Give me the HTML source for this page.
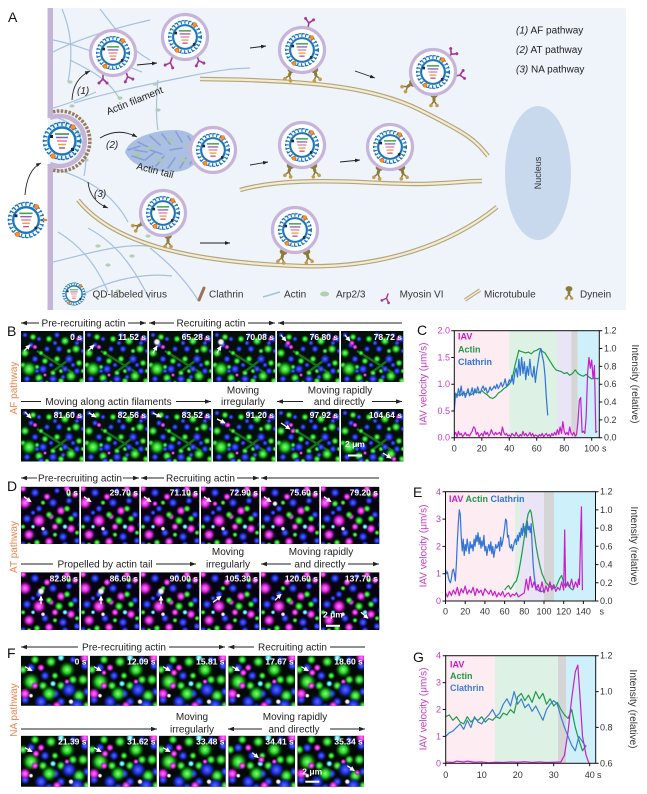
<!DOCTYPE html>
<html><head><meta charset="utf-8">
<style>
html,body{margin:0;padding:0;background:#fff}
svg{display:block}
text{font-family:"Liberation Sans",Arial,sans-serif}
.g{fill:url(#gG)}.b{fill:url(#gB)}.m{fill:url(#gM)}.c{fill:url(#gC)}.w{fill:url(#gW)}
.tl{font-size:8.5px;font-weight:bold;fill:#fff}
.hd{font-size:10px;fill:#222}
.tk{font-size:9px;fill:#333}
.tm{font-size:9px;fill:#c838c8}
.lg{font-size:10px;fill:#333}
</style></head><body>
<svg width="647" height="794" viewBox="0 0 647 794" xmlns="http://www.w3.org/2000/svg">
<defs>
<radialGradient id="gG"><stop offset="0" stop-color="#8dff78"/><stop offset=".45" stop-color="#22cf24"/><stop offset="1" stop-color="#0b6d12" stop-opacity="0"/></radialGradient>
<radialGradient id="gB"><stop offset="0" stop-color="#5a6bff"/><stop offset=".5" stop-color="#1f2fe0"/><stop offset="1" stop-color="#101890" stop-opacity="0"/></radialGradient>
<radialGradient id="gM"><stop offset="0" stop-color="#ff86ff"/><stop offset=".5" stop-color="#e020e0"/><stop offset="1" stop-color="#801080" stop-opacity="0"/></radialGradient>
<radialGradient id="gC"><stop offset="0" stop-color="#e8ffff"/><stop offset=".5" stop-color="#40e0f0"/><stop offset="1" stop-color="#108090" stop-opacity="0"/></radialGradient>
<radialGradient id="gW"><stop offset="0" stop-color="#fff"/><stop offset=".5" stop-color="#e8e8e8"/><stop offset="1" stop-color="#888" stop-opacity="0"/></radialGradient>
<marker id="ar" viewBox="0 0 8 6" refX="8" refY="3" markerWidth="6" markerHeight="4.5" markerUnits="userSpaceOnUse" orient="auto-start-reverse"><path d="M0,0L8,3L0,6z" fill="#222"/></marker>
<marker id="ka" viewBox="0 0 8 6" refX="8" refY="3" markerWidth="5" markerHeight="3.8" markerUnits="userSpaceOnUse" orient="auto"><path d="M0,0L8,3L0,6z" fill="#222"/></marker>
<marker id="wa" viewBox="0 0 8 8" refX="7" refY="4" markerWidth="5" markerHeight="5" markerUnits="userSpaceOnUse" orient="auto"><path d="M0,0L8,4L0,8z" fill="#fff"/></marker>

<g id="vc">
<circle r="17" fill="none" stroke="#1c76bc" stroke-width="4" stroke-dasharray="1.4 3"/>
<circle r="18.6" fill="none" stroke="#1c76bc" stroke-width="1.4" stroke-dasharray="2.6 1.8"/>
<circle r="13.5" fill="#fff" stroke="#1c76bc" stroke-width="2.4"/>
<path d="M-7,-7h14" stroke="#3aa54a" stroke-width="1.7"/>
<path d="M-6,-3.5h12" stroke="#9a5ab4" stroke-width="1.5"/>
<path d="M-5,0h10" stroke="#e07ab0" stroke-width="1.5"/>
<path d="M-4,3.5h8" stroke="#f0a030" stroke-width="1.5"/>
<path d="M-3,7h6" stroke="#c05090" stroke-width="1.5"/>
<rect x="9" y="7" width="3" height="3" fill="#1a2a40"/>
<rect x="-12" y="-6" width="3" height="3" fill="#1a2a40"/>
<circle cx="11" cy="-14" r="2.3" fill="#f7941d" stroke="#e05a1a" stroke-width=".6"/>
<circle cx="-9" cy="15" r="2.3" fill="#f7941d" stroke="#e05a1a" stroke-width=".6"/>
</g>
<g id="ve"><circle r="22.5" fill="#fff" stroke="#c6b4da" stroke-width="3.2"/><use href="#vc" transform="scale(.88)"/></g>
<g id="my" stroke="#a3399a" stroke-width="1.6" fill="none" stroke-linecap="round"><path d="M0,0V-5M0,-5L-4,-9M0,-5L4,-9"/><circle cx="-4" cy="-9" r="1.5" fill="#a3399a" stroke="none"/><circle cx="4" cy="-9" r="1.5" fill="#a3399a" stroke="none"/></g>
<g id="dy"><path d="M0,0L0,8" stroke="#8a7b38" stroke-width="3"/><ellipse cx="0" cy="2" rx="3.8" ry="3" fill="#8a7b38"/><path d="M0,8L-3,12M0,8L3,12" stroke="#8a7b38" stroke-width="1.5"/><circle cx="-3" cy="12.5" r="1.8" fill="#c79a4c"/><circle cx="3" cy="12.5" r="1.8" fill="#c79a4c"/></g>

<g id="tB">
<rect width="70" height="60" fill="#03100a"/>
<path d="M16,20 L52,42 M30,42 L46,30" stroke="#1fae2c" stroke-width="2.4" opacity=".6"/>
<circle class="b" cx="4" cy="4" r="3"/><circle class="b" cx="16" cy="40" r="3"/><circle class="b" cx="30" cy="34" r="3"/><circle class="b" cx="42" cy="46" r="3"/><circle class="b" cx="52" cy="34" r="3"/><circle class="b" cx="62" cy="20" r="3"/><circle class="b" cx="8" cy="56" r="3"/><circle class="b" cx="28" cy="56" r="3"/><circle class="b" cx="46" cy="56" r="3"/><circle class="b" cx="34" cy="12" r="3"/><circle class="b" cx="18" cy="8" r="3"/><circle class="b" cx="56" cy="12" r="3"/>
<circle class="g" cx="20" cy="22" r="3"/><circle class="g" cx="40" cy="40" r="3"/><circle class="g" cx="48" cy="20" r="3"/><circle class="g" cx="2" cy="34" r="3.5"/><circle class="g" cx="26" cy="52" r="3"/><circle class="g" cx="62" cy="40" r="3"/><circle class="g" cx="16" cy="36" r="3"/>
<circle class="g" cx="8" cy="38" r="8"/><circle class="g" cx="4" cy="22" r="5"/><circle class="g" cx="18" cy="47" r="5"/><circle class="g" cx="28" cy="8" r="4"/><circle class="g" cx="44" cy="10" r="5"/><circle class="g" cx="55" cy="18" r="5"/><circle class="g" cx="36" cy="28" r="4"/><circle class="g" cx="50" cy="45" r="6"/><circle class="g" cx="58" cy="32" r="4"/><circle class="g" cx="24" cy="30" r="4"/><circle class="g" cx="12" cy="6" r="4"/><circle class="g" cx="40" cy="50" r="4"/><circle class="g" cx="61" cy="50" r="4"/><circle class="g" cx="32" cy="42" r="3.5"/>
<circle class="b" cx="22" cy="38" r="5"/><circle class="b" cx="32" cy="48" r="5"/><circle class="b" cx="14" cy="28" r="4"/><circle class="b" cx="6" cy="48" r="4"/><circle class="b" cx="38" cy="18" r="4"/><circle class="b" cx="48" cy="28" r="5"/><circle class="b" cx="56" cy="40" r="4"/><circle class="b" cx="26" cy="18" r="3.5"/><circle class="b" cx="10" cy="14" r="3.5"/><circle class="b" cx="44" cy="38" r="4"/><circle class="b" cx="60" cy="8" r="4"/><circle class="b" cx="20" cy="52" r="4"/><circle class="b" cx="36" cy="4" r="3.5"/><circle class="b" cx="52" cy="4" r="3"/>
<circle class="m" cx="14" cy="16" r="2.8"/><circle class="m" cx="57" cy="8" r="2.5"/><circle class="m" cx="24" cy="44" r="2.2"/>
</g>
<g id="tD">
<rect width="70" height="70" fill="#080310"/>
<circle class="m" cx="46" cy="2" r="4"/><circle class="m" cx="62" cy="20" r="4"/><circle class="m" cx="2" cy="2" r="4"/><circle class="m" cx="30" cy="30" r="3.5"/>
<circle class="b" cx="2" cy="58" r="4"/><circle class="b" cx="60" cy="38" r="4"/><circle class="b" cx="44" cy="58" r="4"/><circle class="b" cx="12" cy="26" r="3"/><circle class="b" cx="30" cy="62" r="3"/>
<circle class="g" cx="22" cy="16" r="3"/><circle class="g" cx="60" cy="14" r="3"/><circle class="g" cx="2" cy="40" r="3"/><circle class="g" cx="34" cy="48" r="3"/><circle class="g" cx="48" cy="8" r="3"/>
<circle class="m" cx="4" cy="16" r="7"/><circle class="m" cx="18" cy="34" r="7"/><circle class="m" cx="8" cy="48" r="6"/><circle class="m" cx="28" cy="55" r="5"/><circle class="m" cx="50" cy="42" r="5"/><circle class="m" cx="40" cy="24" r="5"/><circle class="m" cx="26" cy="10" r="4"/><circle class="m" cx="54" cy="8" r="4"/><circle class="m" cx="34" cy="40" r="4"/>
<circle class="b" cx="14" cy="6" r="5"/><circle class="b" cx="32" cy="16" r="5"/><circle class="b" cx="48" cy="14" r="4"/><circle class="b" cx="6" cy="32" r="5"/><circle class="b" cx="42" cy="50" r="5"/><circle class="b" cx="24" cy="46" r="4.5"/><circle class="b" cx="54" cy="28" r="4"/><circle class="b" cx="18" cy="22" r="4"/><circle class="b" cx="56" cy="54" r="4"/><circle class="b" cx="36" cy="4" r="3.5"/>
<circle class="g" cx="38" cy="34" r="5"/><circle class="g" cx="50" cy="32" r="4"/><circle class="g" cx="16" cy="56" r="4"/><circle class="g" cx="46" cy="22" r="4"/><circle class="g" cx="28" cy="28" r="4"/><circle class="g" cx="8" cy="58" r="3"/><circle class="g" cx="56" cy="46" r="3"/>
<circle class="c" cx="44" cy="40" r="3"/><circle class="c" cx="12" cy="40" r="2.5"/><circle class="w" cx="22" cy="42" r="2.5"/>
</g>
<g id="tF">
<rect width="70" height="60" fill="#020a05"/>
<circle class="g" cx="2" cy="14" r="5"/><circle class="g" cx="52" cy="24" r="5"/><circle class="g" cx="22" cy="30" r="5"/><circle class="g" cx="66" cy="50" r="5"/><circle class="g" cx="34" cy="20" r="4"/>
<circle class="b" cx="10" cy="12" r="5"/><circle class="b" cx="34" cy="38" r="5"/><circle class="b" cx="52" cy="4" r="4"/><circle class="b" cx="66" cy="36" r="5"/><circle class="b" cx="28" cy="52" r="5"/>
<circle class="m" cx="46" cy="26" r="3"/>
<circle class="g" cx="10" cy="26" r="9"/><circle class="g" cx="28" cy="38" r="8"/><circle class="g" cx="46" cy="14" r="8"/><circle class="g" cx="58" cy="40" r="7"/><circle class="g" cx="30" cy="6" r="6"/><circle class="g" cx="62" cy="24" r="6"/><circle class="g" cx="14" cy="4" r="5"/><circle class="g" cx="40" cy="30" r="5"/>
<circle class="b" cx="48" cy="34" r="8"/><circle class="b" cx="56" cy="50" r="8"/><circle class="b" cx="20" cy="46" r="7"/><circle class="b" cx="40" cy="46" r="5"/><circle class="b" cx="64" cy="10" r="5"/><circle class="b" cx="4" cy="44" r="5"/><circle class="b" cx="24" cy="20" r="5"/>
<circle class="m" cx="4" cy="38" r="6"/><circle class="m" cx="64" cy="2" r="6"/><circle class="m" cx="36" cy="50" r="5"/><circle class="m" cx="20" cy="12" r="4"/><circle class="m" cx="14" cy="30" r="4"/>
<circle class="c" cx="40" cy="2" r="4"/><circle class="c" cx="32" cy="28" r="3.5"/><circle class="w" cx="50" cy="46" r="3"/><circle class="w" cx="10" cy="40" r="2.5"/>
</g>
</defs>

<rect width="647" height="794" fill="#fff"/>

<!-- ================= PANEL A ================= -->
<rect x="48" y="8" width="578" height="302" fill="#eef4fa"/>
<text x="8" y="22" font-size="14" fill="#111">A</text>

<g fill="none" stroke="#a6c0dd" stroke-width="1.2">
<path d="M53,52 C80,38 115,28 150,20"/>
<path d="M62,9 C70,28 74,50 68,82"/>
<path d="M53,40 C85,46 115,62 142,72"/>
<path d="M74,103 C110,92 150,84 190,76 S235,69 250,68"/>
<path d="M100,9 C115,28 128,48 150,60"/>
<path d="M53,108 C68,104 82,98 96,92"/>
<path d="M58,118 C78,124 90,148 84,176"/>
<path d="M53,168 C85,178 112,192 128,222"/>
<path d="M58,232 C78,244 95,262 108,292"/>
<path d="M53,262 C88,254 128,240 160,248"/>
<path d="M70,302 C100,282 140,272 172,276"/>
<path d="M88,228 C110,240 128,256 150,300"/>
<path d="M150,248 C168,262 184,278 198,300"/>
<path d="M158,80 C156,100 156,120 158,130"/>
<path d="M70,60 C90,70 110,80 120,100"/>
</g>
<g fill="#b4ceb2">
<ellipse cx="72" cy="106" rx="2.6" ry="1.6"/><ellipse cx="80" cy="134" rx="2.6" ry="1.6"/><ellipse cx="86" cy="160" rx="2.6" ry="1.6"/><ellipse cx="155" cy="84" rx="2.6" ry="1.6"/><ellipse cx="108" cy="265" rx="2.6" ry="1.6"/><ellipse cx="132" cy="256" rx="2.6" ry="1.6"/><ellipse cx="98" cy="246" rx="2.6" ry="1.6"/><ellipse cx="148" cy="236" rx="2.6" ry="1.6"/><ellipse cx="70" cy="82" rx="2.6" ry="1.6"/><ellipse cx="120" cy="98" rx="2.6" ry="1.6"/><ellipse cx="158" cy="110" rx="2.6" ry="1.6"/><ellipse cx="76" cy="290" rx="2.6" ry="1.6"/><ellipse cx="118" cy="291" rx="2.6" ry="1.6"/>
</g>

<!-- microtubules -->
<g fill="none">
<path d="M200,79 C300,80 370,85 420,110 S475,140 488,156" stroke="#b3a57a" stroke-width="4.5"/>
<path d="M200,79 C300,80 370,85 420,110 S475,140 488,156" stroke="#f2ecd4" stroke-width="2.2"/>
<path d="M240,190 C275,180 320,180 380,183 S455,181 482,181" stroke="#b3a57a" stroke-width="4.5"/>
<path d="M240,190 C275,180 320,180 380,183 S455,181 482,181" stroke="#f2ecd4" stroke-width="2.2"/>
<path d="M78,200 C110,240 180,262 300,266 C380,269 450,245 497,207" stroke="#b3a57a" stroke-width="4.5"/>
<path d="M78,200 C110,240 180,262 300,266 C380,269 450,245 497,207" stroke="#f2ecd4" stroke-width="2.2"/>
</g>

<!-- actin tail -->
<path d="M125,152 C128,140 150,130 175,130 C192,130 200,140 200,150 C200,162 190,172 172,172 C150,172 130,165 125,152z" fill="#aabfe2"/>
<g stroke="#86a0d2" stroke-width="1.6" fill="none" stroke-linecap="round">
<path d="M128,150 L140,146 M132,156 L144,160 M138,142 L150,148 M145,160 L155,152 M150,136 L160,145 M156,166 L164,156 M162,134 L170,144 M168,168 L175,158 M176,132 L182,142 M180,168 L186,158 M188,136 L194,146 M190,164 L196,154 M150,150 L162,154 M170,150 L182,148 M135,150 L147,152"/>
</g>
<g fill="#a9c9a6"><ellipse cx="150" cy="148" rx="3" ry="1.8"/><ellipse cx="170" cy="140" rx="3" ry="1.8"/><ellipse cx="183" cy="160" rx="3" ry="1.8"/><ellipse cx="160" cy="160" rx="3" ry="1.8"/><ellipse cx="190" cy="145" rx="3" ry="1.8"/><ellipse cx="138" cy="155" rx="3" ry="1.8"/></g>

<!-- membrane -->
<rect x="47.5" y="8" width="5.5" height="110" fill="#c4b4d6"/>
<rect x="47.5" y="164" width="5.5" height="146" fill="#c4b4d6"/>
<path d="M50,118 A25,25 0 1 1 50,164" fill="none" stroke="#c4b4d6" stroke-width="4.5"/>
<path d="M53,111.8 A30,30 0 1 1 53,170.2" fill="none" stroke="#9b7a60" stroke-width="3.5" stroke-dasharray="2.5 1.4"/>
<use href="#vc" transform="translate(62,141)"/>
<use href="#vc" transform="translate(26,220) scale(.95)"/>
<rect x="43" y="219" width="4" height="2" fill="#e08a2a"/>

<!-- pathway 1 -->
<use href="#my" transform="translate(103,74) rotate(180)"/>
<use href="#my" transform="translate(126,72) rotate(160)"/>
<use href="#ve" transform="translate(113,53)"/>
<use href="#my" transform="translate(172,58) rotate(200)"/>
<use href="#my" transform="translate(197,56) rotate(160)"/>
<use href="#ve" transform="translate(185,37)"/>
<use href="#my" transform="translate(308,28) rotate(10)"/>
<use href="#dy" transform="translate(292,68) rotate(20)"/>
<use href="#dy" transform="translate(314,68) rotate(-15)"/>
<use href="#ve" transform="translate(302,50)"/>
<use href="#my" transform="translate(448,58) rotate(40)"/>
<use href="#my" transform="translate(455,76) rotate(80)"/>
<use href="#dy" transform="translate(414,82) rotate(55)"/>
<use href="#dy" transform="translate(434,93)"/>
<use href="#ve" transform="translate(433,72)"/>

<!-- pathway 2 -->
<use href="#ve" transform="translate(213,150)"/>
<use href="#dy" transform="translate(291,164) rotate(15)"/>
<use href="#dy" transform="translate(313,164) rotate(-15)"/>
<use href="#ve" transform="translate(302,145)"/>
<use href="#dy" transform="translate(380,166) rotate(15)"/>
<use href="#dy" transform="translate(401,166) rotate(-15)"/>
<use href="#ve" transform="translate(390,147)"/>

<!-- pathway 3 -->
<use href="#dy" transform="translate(145,222) rotate(60)"/>
<use href="#dy" transform="translate(168,234)"/>
<use href="#ve" transform="translate(163,213)"/>
<use href="#dy" transform="translate(284,250) rotate(15)"/>
<use href="#dy" transform="translate(306,250) rotate(-15)"/>
<use href="#ve" transform="translate(295,230)"/>

<!-- black arrows -->
<g fill="none" stroke="#222" stroke-width=".9" marker-end="url(#ka)">
<path d="M25,195 Q27,170 41,163"/>
<path d="M72,100 Q73,79 90,71"/>
<path d="M137,65 L157,63"/>
<path d="M250,48 L266,46"/>
<path d="M355,71 L375,78"/>
<path d="M100,138 Q118,127 137,137"/>
<path d="M250,165 L268,162"/>
<path d="M340,162 L360,160"/>
<path d="M88,182 Q90,201 108,208"/>
<path d="M200,243 L230,243"/>
</g>

<ellipse cx="538" cy="173" rx="33" ry="67" fill="#c9d9ed"/>
<text transform="translate(541,173) rotate(-90)" text-anchor="middle" font-size="9" fill="#333">Nucleus</text>

<text x="77" y="94" font-size="10" font-style="italic" fill="#222">(1)</text>
<text x="106" y="148" font-size="10" font-style="italic" fill="#222">(2)</text>
<text x="94" y="197" font-size="10" font-style="italic" fill="#222">(3)</text>
<text transform="translate(108,115) rotate(-22)" font-size="10" fill="#222">Actin filament</text>
<text transform="translate(136,169) rotate(14)" font-size="10" fill="#222">Actin tail</text>
<text x="516" y="33.5" font-size="10" fill="#222"><tspan font-style="italic">(1)</tspan> AF pathway</text>
<text x="516" y="53" font-size="10" fill="#222"><tspan font-style="italic">(2)</tspan> AT pathway</text>
<text x="516" y="72.5" font-size="10" fill="#222"><tspan font-style="italic">(3)</tspan> NA pathway</text>

<!-- legend -->
<use href="#vc" transform="translate(74,294) scale(.6)"/>
<text x="92.5" y="297.5" class="lg">QD-labeled virus</text>
<path d="M199,300 L204,288" stroke="#9a7358" stroke-width="3" stroke-linecap="round"/>
<text x="209" y="297.5" class="lg">Clathrin</text>
<path d="M263,297 L280,292" stroke="#a6c0dd" stroke-width="1.5"/>
<text x="284" y="297.5" class="lg">Actin</text>
<ellipse cx="324.6" cy="294" rx="4.5" ry="2.5" fill="#b4ceb2"/>
<text x="336" y="297.5" class="lg">Arp2/3</text>
<use href="#my" transform="translate(388,294) rotate(200) scale(.9)"/>
<text x="399.6" y="297.5" class="lg">Myosin VI</text>
<path d="M465,300 L480,290" stroke="#b3a57a" stroke-width="3.5"/><path d="M465,300 L480,290" stroke="#f2ecd4" stroke-width="1.5"/>
<text x="484" y="297.5" class="lg">Microtubule</text>
<use href="#dy" transform="translate(569,287) scale(.9)"/>
<text x="580" y="297.5" class="lg">Dynein</text>

<!-- ================= PANEL B ================= -->
<text x="7" y="336" font-size="14" fill="#111">B</text>
<text transform="translate(17,388) rotate(-90)" text-anchor="middle" fill="#f0834a" font-size="10">AF pathway</text>
<g stroke="#222" stroke-width=".9">
<line x1="21" y1="323" x2="39" y2="323" marker-start="url(#ar)"/><line x1="128" y1="323" x2="146" y2="323" marker-end="url(#ar)"/>
<line x1="149" y1="323" x2="174" y2="323" marker-start="url(#ar)"/><line x1="248" y1="323" x2="275" y2="323" marker-end="url(#ar)"/>
<line x1="278" y1="323" x2="402" y2="323" marker-start="url(#ar)"/>
<line x1="21" y1="401.5" x2="41" y2="401.5"/><line x1="176" y1="401.5" x2="211" y2="401.5" marker-end="url(#ar)"/>
<line x1="277" y1="401.5" x2="303" y2="401.5" marker-start="url(#ar)"/><line x1="372" y1="401.5" x2="402" y2="401.5" marker-end="url(#ar)"/>
</g>
<text x="83.5" y="326.5" text-anchor="middle" class="hd">Pre-recruiting actin</text>
<text x="211" y="326.5" text-anchor="middle" class="hd">Recruiting actin</text>
<text x="108.5" y="405" text-anchor="middle" class="hd">Moving along actin filaments</text>
<text x="243" y="393.5" text-anchor="middle" class="hd">Moving</text>
<text x="243" y="405" text-anchor="middle" class="hd">irregularly</text>
<text x="340" y="393.5" text-anchor="middle" class="hd">Moving rapidly</text>
<text x="339.5" y="405" text-anchor="middle" class="hd">and directly</text>

<svg x="21" y="331" width="62.3" height="51"><use href="#tB"/><line x1="3" y1="20" x2="9" y2="14" stroke="#fff" stroke-width="1.3" marker-end="url(#wa)"/><text x="61" y="9" text-anchor="end" class="tl">0 s</text></svg>
<svg x="85" y="331" width="62.3" height="51"><use href="#tB"/><line x1="3" y1="20" x2="9" y2="14" stroke="#fff" stroke-width="1.3" marker-end="url(#wa)"/><text x="61" y="9" text-anchor="end" class="tl">11.52 s</text></svg>
<svg x="149" y="331" width="62.3" height="51"><use href="#tB"/><circle class="w" cx="8" cy="11" r="4"/><line x1="4" y1="22" x2="8" y2="15" stroke="#fff" stroke-width="1.3" marker-end="url(#wa)"/><text x="61" y="9" text-anchor="end" class="tl">65.28 s</text></svg>
<svg x="213" y="331" width="62.3" height="51"><use href="#tB"/><circle class="w" cx="8" cy="11" r="4"/><line x1="4" y1="22" x2="8" y2="15" stroke="#fff" stroke-width="1.3" marker-end="url(#wa)"/><text x="61" y="9" text-anchor="end" class="tl">70.08 s</text></svg>
<svg x="277" y="331" width="62.3" height="51"><use href="#tB"/><circle class="m" cx="11" cy="12" r="3"/><line x1="4" y1="4" x2="9" y2="10" stroke="#fff" stroke-width="1.3" marker-end="url(#wa)"/><text x="61" y="9" text-anchor="end" class="tl">76.80 s</text></svg>
<svg x="341" y="331" width="62.3" height="51"><use href="#tB"/><circle class="m" cx="11" cy="12" r="3"/><line x1="4" y1="4" x2="9" y2="10" stroke="#fff" stroke-width="1.3" marker-end="url(#wa)"/><text x="61" y="9" text-anchor="end" class="tl">78.72 s</text></svg>

<svg x="21" y="409" width="62.3" height="52.5"><use href="#tB"/><line x1="4" y1="3" x2="10" y2="9" stroke="#fff" stroke-width="1.3" marker-end="url(#wa)"/><text x="61" y="9" text-anchor="end" class="tl">81.60 s</text></svg>
<svg x="85" y="409" width="62.3" height="52.5"><use href="#tB"/><line x1="4" y1="4" x2="11" y2="8" stroke="#fff" stroke-width="1.3" marker-end="url(#wa)"/><text x="61" y="9" text-anchor="end" class="tl">82.56 s</text></svg>
<svg x="149" y="409" width="62.3" height="52.5"><use href="#tB"/><line x1="4" y1="4" x2="12" y2="8" stroke="#fff" stroke-width="1.3" marker-end="url(#wa)"/><text x="61" y="9" text-anchor="end" class="tl">83.52 s</text></svg>
<svg x="213" y="409" width="62.3" height="52.5"><use href="#tB"/><circle class="m" cx="15" cy="16" r="3"/><line x1="4" y1="10" x2="12" y2="14" stroke="#fff" stroke-width="1.3" marker-end="url(#wa)"/><text x="61" y="9" text-anchor="end" class="tl">91.20 s</text></svg>
<svg x="277" y="409" width="62.3" height="52.5"><use href="#tB"/><circle class="m" cx="16" cy="22" r="3"/><line x1="4" y1="14" x2="13" y2="20" stroke="#fff" stroke-width="1.3" marker-end="url(#wa)"/><text x="61" y="9" text-anchor="end" class="tl">97.92 s</text></svg>
<svg x="341" y="409" width="62.3" height="52.5"><use href="#tB"/><circle class="m" cx="53" cy="50" r="3"/><line x1="42" y1="44" x2="50" y2="49" stroke="#fff" stroke-width="1.3" marker-end="url(#wa)"/><text x="61" y="9" text-anchor="end" class="tl">104.64 s</text><text x="4" y="38" class="tl" font-size="8">2 μm</text><rect x="7" y="45.5" width="14" height="2" fill="#fff"/></svg>

<!-- ================= PANEL C ================= -->
<text x="417" y="335" font-size="14" fill="#111">C</text>
<rect x="454.3" y="330.7" width="55" height="107" fill="#fdedf3"/>
<rect x="509.3" y="330.7" width="47.7" height="107" fill="#ddf1e4"/>
<rect x="557" y="330.7" width="14.3" height="107" fill="#e9e5f7"/>
<rect x="571.3" y="330.7" width="6.4" height="107" fill="#d5d5d5"/>
<rect x="577.7" y="330.7" width="21.6" height="107" fill="#cef0fb"/>
<g fill="none" stroke-width="1.2" stroke-linejoin="round">
<polyline transform="matrix(1.374,0,0,-89.17,454.3,437.7)" vector-effect="non-scaling-stroke" stroke="#1e9b48" points="0,.48 2,.49 4,.47 6,.5 8,.49 10,.51 12,.48 14,.5 16,.52 18,.5 20,.53 22,.5 24,.48 26,.45 28,.44 30,.46 32,.5 34,.52 36,.55 38,.57 40,.6 42,.65 44,.8 46,.92 47,.98 48,.97 50,.96 52,.95 54,.96 56,.94 58,.97 60,.98 62,1 63,.99 64,.97 66,.95 68,.9 70,.85 72,.8 74,.76 76,.75 78,.74 80,.72 82,.73 84,.7 86,.72 88,.76 90,.72 92,.7 94,.69 96,.71 98,.68 100,.66 102,.67 104,.66 105,.67"/>
<polyline transform="matrix(1.374,0,0,-89.17,454.3,437.7)" vector-effect="non-scaling-stroke" stroke="#2f74d8" points="0,.3 1,.5 2,.45 3,.55 4,.48 5,.58 6,.47 7,.52 8,.45 9,.5 10,.55 11,.47 12,.5 13,.56 14,.48 15,.55 16,.5 17,.57 18,.52 19,.5 20,.55 21,.58 22,.53 23,.56 24,.5 25,.52 26,.57 27,.53 28,.55 29,.58 30,.55 31,.6 32,.55 33,.58 34,.62 35,.57 36,.6 37,.66 38,.58 39,.6 40,.65 41,.62 42,.7 43,.6 44,.72 45,.78 46,.68 47,.88 48,.7 49,.9 50,.72 51,.85 52,.65 53,.8 54,.7 55,.88 56,.72 57,.68 58,.8 59,.62 60,.75 61,.85 62,.95 63,1 64,.92 65,.85 66,.7 67,.45 68,.25"/>
<polyline transform="matrix(1.374,0,0,-53.5,454.3,437.7)" vector-effect="non-scaling-stroke" stroke="#c81ec8" points="0,.05 1,.1 2,.02 3,.12 4,.05 5,.08 6,.02 7,.05 8,.1 9,.04 10,.06 11,.03 12,.08 13,.12 14,.2 15,.18 16,.06 17,.1 18,.02 19,.05 20,.08 21,.03 22,.12 23,.06 24,.1 25,.03 26,.07 27,.15 28,.08 29,.05 30,.1 31,.06 32,.08 33,.1 34,.04 35,.2 36,.1 37,.05 38,.08 39,.03 40,.05 41,.02 42,.08 43,.05 44,.03 45,.1 46,.04 47,.02 48,.06 49,.03 50,.12 51,.04 52,.08 53,.03 54,.05 55,.1 56,.03 57,.08 58,.02 59,.05 60,.04 61,.02 62,.06 63,.03 64,.08 65,.02 66,.05 67,.08 68,.03 69,.06 70,.02 71,.08 72,.04 73,.1 74,.05 75,.15 76,.06 77,.2 78,.08 79,.3 80,.12 81,.06 82,.1 83,.05 84,.2 85,.08 86,.05 87,.1 88,.03 89,.06 90,.3 91,.7 92,.75 93,.1 94,.12 95,.08 96,.4 97,1.2 98,1.5 99,1.3 100,1.45 101,1.1 102,1.35 103,.1 104,.12"/>
</g>
<rect x="454.3" y="330.7" width="145" height="107" fill="none" stroke="#111" stroke-width="1"/>
<path d="M451.3,437.7h3M451.3,411h3M451.3,384.2h3M451.3,357.5h3M451.3,330.7h3M599.3,437.7h3M599.3,419.9h3M599.3,402h3M599.3,384.2h3M599.3,366.4h3M599.3,348.5h3M599.3,330.7h3M454.3,437.7v3M481.8,437.7v3M509.3,437.7v3M536.7,437.7v3M564.2,437.7v3M591.7,437.7v3" stroke="#111" stroke-width="1"/>
<g text-anchor="end" class="tm"><text x="450" y="440.7" class="tm">0.0</text><text x="450" y="414" class="tm">0.5</text><text x="450" y="387.2" class="tm">1.0</text><text x="450" y="360.5" class="tm">1.5</text><text x="450" y="333.7" class="tm">2.0</text></g>
<g class="tk"><text x="604" y="440.7" class="tk">0.0</text><text x="604" y="422.9" class="tk">0.2</text><text x="604" y="405" class="tk">0.4</text><text x="604" y="387.2" class="tk">0.6</text><text x="604" y="369.4" class="tk">0.8</text><text x="604" y="351.5" class="tk">1.0</text><text x="604" y="333.7" class="tk">1.2</text></g>
<g text-anchor="middle"><text x="454.3" y="451.5" class="tk">0</text><text x="481.8" y="451.5" class="tk">20</text><text x="509.3" y="451.5" class="tk">40</text><text x="536.7" y="451.5" class="tk">60</text><text x="564.2" y="451.5" class="tk">80</text><text x="591.7" y="451.5" class="tk">100</text></g>
<text x="602" y="451.5" class="tk">s</text>
<text transform="translate(426.5,384) rotate(-90)" text-anchor="middle" font-size="10" fill="#c838c8">IAV velocity (μm/s)</text>
<text transform="translate(632,384) rotate(90)" text-anchor="middle" font-size="10" fill="#333">Intensity (relative)</text>
<text x="458" y="339.5" font-size="9" font-weight="bold" fill="#c81ec8">IAV</text>
<text x="458" y="352.7" font-size="9" font-weight="bold" fill="#1e9b48">Actin</text>
<text x="458" y="365" font-size="9" font-weight="bold" fill="#2f74d8">Clathrin</text>

<!-- ================= PANEL D ================= -->
<text x="7" y="491" font-size="14" fill="#111">D</text>
<text transform="translate(17,547) rotate(-90)" text-anchor="middle" fill="#f0834a" font-size="10">AT pathway</text>
<g stroke="#222" stroke-width=".9">
<line x1="21" y1="478" x2="37" y2="478" marker-start="url(#ar)"/><line x1="123" y1="478" x2="139" y2="478" marker-end="url(#ar)"/>
<line x1="141" y1="478" x2="164" y2="478" marker-start="url(#ar)"/><line x1="237" y1="478" x2="259" y2="478" marker-end="url(#ar)"/>
<line x1="261" y1="478" x2="379" y2="478" marker-start="url(#ar)"/>
<line x1="21" y1="564" x2="53" y2="564"/><line x1="156" y1="564" x2="196" y2="564" marker-end="url(#ar)"/>
<line x1="261" y1="564" x2="291" y2="564" marker-start="url(#ar)"/><line x1="348" y1="564" x2="379" y2="564" marker-end="url(#ar)"/>
</g>
<text x="80" y="481.5" text-anchor="middle" class="hd">Pre-recruiting actin</text>
<text x="200.5" y="481.5" text-anchor="middle" class="hd">Recruiting actin</text>
<text x="105" y="567.5" text-anchor="middle" class="hd">Propelled by actin tail</text>
<text x="228" y="555" text-anchor="middle" class="hd">Moving</text>
<text x="228" y="567.5" text-anchor="middle" class="hd">irregularly</text>
<text x="321" y="555" text-anchor="middle" class="hd">Moving rapidly</text>
<text x="320" y="567.5" text-anchor="middle" class="hd">and directly</text>

<svg x="21" y="486.7" width="58.3" height="57.3"><use href="#tD"/><line x1="3" y1="10" x2="10" y2="15" stroke="#fff" stroke-width="1.3" marker-end="url(#wa)"/><text x="57" y="9" text-anchor="end" class="tl">0 s</text></svg>
<svg x="81" y="486.7" width="58.3" height="57.3"><use href="#tD"/><line x1="3" y1="10" x2="10" y2="15" stroke="#fff" stroke-width="1.3" marker-end="url(#wa)"/><text x="57" y="9" text-anchor="end" class="tl">29.70 s</text></svg>
<svg x="141" y="486.7" width="58.3" height="57.3"><use href="#tD"/><circle class="m" cx="14" cy="17" r="3"/><line x1="3" y1="10" x2="10" y2="15" stroke="#fff" stroke-width="1.3" marker-end="url(#wa)"/><text x="57" y="9" text-anchor="end" class="tl">71.10 s</text></svg>
<svg x="201" y="486.7" width="58.3" height="57.3"><use href="#tD"/><circle class="m" cx="14" cy="17" r="3"/><line x1="3" y1="10" x2="10" y2="15" stroke="#fff" stroke-width="1.3" marker-end="url(#wa)"/><text x="57" y="9" text-anchor="end" class="tl">72.90 s</text></svg>
<svg x="261" y="486.7" width="58.3" height="57.3"><use href="#tD"/><circle class="w" cx="14" cy="17" r="3"/><line x1="3" y1="10" x2="10" y2="15" stroke="#fff" stroke-width="1.3" marker-end="url(#wa)"/><text x="57" y="9" text-anchor="end" class="tl">75.60 s</text></svg>
<svg x="321" y="486.7" width="58.3" height="57.3"><use href="#tD"/><circle class="g" cx="14" cy="17" r="4"/><line x1="3" y1="10" x2="10" y2="15" stroke="#fff" stroke-width="1.3" marker-end="url(#wa)"/><text x="57" y="9" text-anchor="end" class="tl">79.20 s</text></svg>

<svg x="21" y="572.3" width="58.3" height="57.7"><use href="#tD"/><circle class="w" cx="20" cy="19" r="4"/><line x1="20" y1="32" x2="20" y2="24" stroke="#fff" stroke-width="1.3" marker-end="url(#wa)"/><text x="57" y="9" text-anchor="end" class="tl">82.80 s</text></svg>
<svg x="81" y="572.3" width="58.3" height="57.7"><use href="#tD"/><circle class="w" cx="20" cy="19" r="4"/><line x1="20" y1="32" x2="20" y2="24" stroke="#fff" stroke-width="1.3" marker-end="url(#wa)"/><text x="57" y="9" text-anchor="end" class="tl">86.60 s</text></svg>
<svg x="141" y="572.3" width="58.3" height="57.7"><use href="#tD"/><circle class="w" cx="20" cy="19" r="4"/><line x1="20" y1="32" x2="20" y2="24" stroke="#fff" stroke-width="1.3" marker-end="url(#wa)"/><text x="57" y="9" text-anchor="end" class="tl">90.00 s</text></svg>
<svg x="201" y="572.3" width="58.3" height="57.7"><use href="#tD"/><line x1="12" y1="30" x2="20" y2="24" stroke="#fff" stroke-width="1.3" marker-end="url(#wa)"/><text x="57" y="9" text-anchor="end" class="tl">105.30 s</text></svg>
<svg x="261" y="572.3" width="58.3" height="57.7"><use href="#tD"/><line x1="14" y1="28" x2="20" y2="22" stroke="#fff" stroke-width="1.3" marker-end="url(#wa)"/><text x="57" y="9" text-anchor="end" class="tl">120.60 s</text></svg>
<svg x="321" y="572.3" width="58.3" height="57.7"><use href="#tD"/><line x1="40" y1="40" x2="47" y2="46" stroke="#fff" stroke-width="1.3" marker-end="url(#wa)"/><text x="57" y="9" text-anchor="end" class="tl">137.70 s</text><text x="2" y="45" class="tl" font-size="8">2 μm</text><rect x="5" y="52.5" width="14" height="2" fill="#fff"/></svg>

<!-- ================= PANEL E ================= -->
<text x="413" y="497" font-size="14" fill="#111">E</text>
<rect x="445.5" y="491.7" width="69.5" height="109.3" fill="#fdedf3"/>
<rect x="515" y="491.7" width="5" height="109.3" fill="#ddf1e4"/>
<rect x="520" y="491.7" width="24" height="109.3" fill="#e9e5f7"/>
<rect x="544" y="491.7" width="10" height="109.3" fill="#d5d5d5"/>
<rect x="554" y="491.7" width="41.5" height="109.3" fill="#cef0fb"/>
<g fill="none" stroke-width="1.2" stroke-linejoin="round">
<polyline transform="matrix(.985,0,0,-91.1,445.5,601)" vector-effect="non-scaling-stroke" stroke="#2f74d8" points="0,.35 1,.3 2,.32 3,.25 4,.22 5,.2 6,.25 7,.33 8,.35 9,.3 10,.22 11,.4 12,.65 13,.85 14,1 15,.95 16,.7 17,.55 18,.68 19,.5 20,.62 21,.55 22,.68 23,.6 24,.52 25,.65 26,.58 27,.62 28,.55 29,.68 30,.6 31,.72 32,.65 33,.75 34,.62 35,.7 36,.58 37,.66 38,.6 39,.72 40,.55 41,.6 42,.5 43,.58 44,.62 45,.55 46,.65 47,.52 48,.6 49,.48 50,.55 51,.62 52,.58 53,.6 54,.65 55,.55 56,.7 57,.6 58,.65 59,.72 60,.8 61,.9 62,.88 63,.7 64,.72 65,.6 66,.58 67,.62 68,.55 69,.6 70,.65 71,.68 72,.62 73,.72 74,.66 75,.75 76,.7 77,.8 78,.72 79,.85 80,.75 81,.82 82,.7 83,.88 84,.78 85,.82 86,.75 87,.85 88,.6 89,.4 90,.28 91,.2 92,.15 93,.13 94,.12 95,.11 96,.12 97,.1 98,.11 100,.1"/>
<polyline transform="matrix(.985,0,0,-91.1,445.5,601)" vector-effect="non-scaling-stroke" stroke="#1e9b48" points="60,.12 62,.15 64,.17 66,.13 68,.16 70,.2 72,.22 74,.3 76,.42 78,.55 80,.7 82,.85 84,.96 86,1 87,.97 88,.9 90,.75 92,.6 94,.48 96,.38 98,.3 100,.25 102,.2 104,.18 106,.15 108,.17 110,.14 112,.15 114,.2 116,.25 118,.28 120,.2 122,.16 124,.18 126,.15 128,.13 130,.12"/>
<polyline transform="matrix(.985,0,0,-27.3,445.5,601)" vector-effect="non-scaling-stroke" stroke="#c81ec8" points="0,.3 2,.15 4,.35 6,.2 8,.4 10,.25 12,.5 14,.2 16,.45 18,.3 20,.55 22,.25 24,.4 26,.3 28,.5 30,.2 32,.45 34,.3 36,.4 38,.2 40,.45 42,.35 44,.25 46,.4 48,.2 50,.35 52,.15 54,.3 56,.2 58,.35 60,.15 62,.25 64,.3 66,.15 68,.25 70,.2 72,.3 74,.15 76,.2 78,.25 80,.3 82,.8 84,.4 86,.9 88,.5 90,.7 92,.4 94,.6 96,.35 98,.7 100,.3 102,.55 104,.35 106,.7 108,.4 110,.6 112,.35 114,.5 116,.4 118,.7 120,.4 121,2.6 122,.5 124,.7 126,.5 128,.8 130,.45 132,.7 134,.5 135,.8 136,.6 137,2.2 138,3.45 139,.4"/>
</g>
<rect x="445.5" y="491.7" width="150" height="109.3" fill="none" stroke="#111" stroke-width="1"/>
<path d="M442.5,601h3M442.5,573.7h3M442.5,546.4h3M442.5,519.1h3M442.5,491.8h3M595.5,601h3M595.5,582.8h3M595.5,564.6h3M595.5,546.3h3M595.5,528.1h3M595.5,509.9h3M595.5,491.7h3M445.5,601v3M465.2,601v3M484.9,601v3M504.6,601v3M524.3,601v3M544,601v3M563.7,601v3M583.4,601v3" stroke="#111" stroke-width="1"/>
<g text-anchor="end"><text x="441" y="604" class="tm">0</text><text x="441" y="576.7" class="tm">1</text><text x="441" y="549.4" class="tm">2</text><text x="441" y="522.1" class="tm">3</text><text x="441" y="494.8" class="tm">4</text></g>
<g><text x="600" y="604" class="tk">0.0</text><text x="600" y="585.8" class="tk">0.2</text><text x="600" y="567.6" class="tk">0.4</text><text x="600" y="549.3" class="tk">0.6</text><text x="600" y="531.1" class="tk">0.8</text><text x="600" y="512.9" class="tk">1.0</text><text x="600" y="494.7" class="tk">1.2</text></g>
<g text-anchor="middle"><text x="445.5" y="614.5" class="tk">0</text><text x="465.2" y="614.5" class="tk">20</text><text x="484.9" y="614.5" class="tk">40</text><text x="504.6" y="614.5" class="tk">60</text><text x="524.3" y="614.5" class="tk">80</text><text x="544" y="614.5" class="tk">100</text><text x="563.7" y="614.5" class="tk">120</text><text x="583.4" y="614.5" class="tk">140</text></g>
<text x="599.5" y="614.5" class="tk">s</text>
<text transform="translate(426.5,546) rotate(-90)" text-anchor="middle" font-size="10" fill="#c838c8">IAV velocity (μm/s)</text>
<text transform="translate(631,546) rotate(90)" text-anchor="middle" font-size="10" fill="#333">Intensity (relative)</text>
<text x="449" y="502" font-size="9" font-weight="bold"><tspan fill="#c81ec8">IAV</tspan> <tspan fill="#1e9b48">Actin</tspan> <tspan fill="#2f74d8">Clathrin</tspan></text>

<!-- ================= PANEL F ================= -->
<text x="7" y="658" font-size="14" fill="#111">F</text>
<text transform="translate(17,710) rotate(-90)" text-anchor="middle" fill="#f0834a" font-size="10">NA pathway</text>
<g stroke="#222" stroke-width=".9">
<line x1="21" y1="647" x2="78" y2="647" marker-start="url(#ar)"/><line x1="169" y1="647" x2="225" y2="647" marker-end="url(#ar)"/>
<line x1="228.3" y1="647" x2="254" y2="647" marker-start="url(#ar)"/><line x1="330" y1="647" x2="365" y2="647"/>
<line x1="21" y1="729" x2="157" y2="729" marker-end="url(#ar)"/>
<line x1="228" y1="729" x2="262" y2="729" marker-start="url(#ar)"/><line x1="330" y1="729" x2="365" y2="729" marker-end="url(#ar)"/>
</g>
<text x="124" y="650.5" text-anchor="middle" class="hd">Pre-recruiting actin</text>
<text x="292.5" y="650.5" text-anchor="middle" class="hd">Recruiting actin</text>
<text x="192" y="720" text-anchor="middle" class="hd">Moving</text>
<text x="192" y="732.5" text-anchor="middle" class="hd">irregularly</text>
<text x="295" y="720" text-anchor="middle" class="hd">Moving rapidly</text>
<text x="294" y="732.5" text-anchor="middle" class="hd">and directly</text>

<svg x="21" y="655.7" width="66.7" height="50"><use href="#tF"/><line x1="4" y1="11" x2="11" y2="15" stroke="#fff" stroke-width="1.3" marker-end="url(#wa)"/><text x="65.5" y="9" text-anchor="end" class="tl">0 s</text></svg>
<svg x="90" y="655.7" width="66.7" height="50"><use href="#tF"/><circle class="m" cx="14" cy="17" r="3"/><line x1="4" y1="11" x2="11" y2="15" stroke="#fff" stroke-width="1.3" marker-end="url(#wa)"/><text x="65.5" y="9" text-anchor="end" class="tl">12.09 s</text></svg>
<svg x="159" y="655.7" width="66.7" height="50"><use href="#tF"/><circle class="m" cx="15" cy="17" r="4"/><line x1="4" y1="11" x2="11" y2="15" stroke="#fff" stroke-width="1.3" marker-end="url(#wa)"/><text x="65.5" y="9" text-anchor="end" class="tl">15.81 s</text></svg>
<svg x="228.3" y="655.7" width="66.7" height="50"><use href="#tF"/><circle class="m" cx="15" cy="17" r="4"/><line x1="4" y1="11" x2="11" y2="15" stroke="#fff" stroke-width="1.3" marker-end="url(#wa)"/><text x="65.5" y="9" text-anchor="end" class="tl">17.67 s</text></svg>
<svg x="297.3" y="655.7" width="66.7" height="50"><use href="#tF"/><circle class="m" cx="15" cy="17" r="4"/><line x1="4" y1="11" x2="11" y2="15" stroke="#fff" stroke-width="1.3" marker-end="url(#wa)"/><text x="65.5" y="9" text-anchor="end" class="tl">18.60 s</text></svg>

<svg x="21" y="735.7" width="66.7" height="51"><use href="#tF"/><circle class="m" cx="15" cy="18" r="4"/><line x1="4" y1="12" x2="11" y2="16" stroke="#fff" stroke-width="1.3" marker-end="url(#wa)"/><text x="65.5" y="9" text-anchor="end" class="tl">21.39 s</text></svg>
<svg x="90" y="735.7" width="66.7" height="51"><use href="#tF"/><circle class="m" cx="15" cy="18" r="4"/><line x1="4" y1="12" x2="11" y2="16" stroke="#fff" stroke-width="1.3" marker-end="url(#wa)"/><text x="65.5" y="9" text-anchor="end" class="tl">31.62 s</text></svg>
<svg x="159" y="735.7" width="66.7" height="51"><use href="#tF"/><circle class="m" cx="15" cy="18" r="4"/><line x1="4" y1="12" x2="11" y2="16" stroke="#fff" stroke-width="1.3" marker-end="url(#wa)"/><text x="65.5" y="9" text-anchor="end" class="tl">33.48 s</text></svg>
<svg x="228.3" y="735.7" width="66.7" height="51"><use href="#tF"/><circle class="m" cx="33" cy="24" r="4"/><line x1="24" y1="17" x2="30" y2="22" stroke="#fff" stroke-width="1.3" marker-end="url(#wa)"/><text x="65.5" y="9" text-anchor="end" class="tl">34.41 s</text></svg>
<svg x="297.3" y="735.7" width="66.7" height="51"><use href="#tF"/><circle class="m" cx="60" cy="37" r="3"/><line x1="50" y1="30" x2="57" y2="35" stroke="#fff" stroke-width="1.3" marker-end="url(#wa)"/><text x="65.5" y="9" text-anchor="end" class="tl">35.34 s</text><text x="5" y="39" class="tl" font-size="8">2 μm</text><rect x="8" y="45" width="14" height="2" fill="#fff"/></svg>

<!-- ================= PANEL G ================= -->
<text x="413" y="662" font-size="14" fill="#111">G</text>
<rect x="445.7" y="655.7" width="49.3" height="107.6" fill="#fdedf3"/>
<rect x="495" y="655.7" width="63" height="107.6" fill="#ddf1e4"/>
<rect x="558" y="655.7" width="8" height="107.6" fill="#d5d5d5"/>
<rect x="566" y="655.7" width="29.7" height="107.6" fill="#cef0fb"/>
<g fill="none" stroke-width="1.2" stroke-linejoin="round">
<polyline transform="matrix(3.6,0,0,-179.3,445.7,870.9)" vector-effect="non-scaling-stroke" stroke="#1e9b48" points="0,.86 1,.87 2,.84 3,.86 4,.83 5,.82 6,.86 7,.83 8,.85 9,.84 10,.86 11,.83 12,.85 13,.84 14,.86 15,.85 16,.88 17,.87 18,.9 19,.88 20,.97 21,.99 22,.95 23,.98 24,.94 25,1 26,.96 27,.99 28,.93 29,.96 30,.92 31,.94 32,.9 33,.87 34,.85 35,.9 36,.8 37,.73 38,.67 39,.7"/>
<polyline transform="matrix(3.6,0,0,-179.3,445.7,870.9)" vector-effect="non-scaling-stroke" stroke="#3b7fd4" points="0,.75 1,.77 2,.78 3,.8 4,.82 5,.79 6,.84 7,.8 8,.86 9,.83 10,.82 11,.85 12,.87 13,.9 14,.86 15,.88 16,.93 17,.96 18,.92 19,1 20,.93 21,.96 22,.91 23,.93 24,.89 25,.92 26,.88 27,.84 28,.9 29,.93 30,.95 31,.93 32,.86 33,.8 34,.75 35,.7 36,.67 37,.75 38,.72 39,.69"/>
<polyline transform="matrix(3.6,0,0,-26.9,445.7,763.3)" vector-effect="non-scaling-stroke" stroke="#c81ec8" points="0,.05 2,.03 3,.08 5,.05 6,.08 8,.04 10,.05 12,.02 14,.04 16,.03 18,.05 20,.04 22,.06 24,.03 26,.05 28,.03 30,.04 32,.05 33,.3 34,1.2 35,2.4 36,3.4 36.7,3.65 37.3,2.5 38,1 39,.3 39.8,0"/>
</g>
<rect x="445.7" y="655.7" width="150" height="107.6" fill="none" stroke="#111" stroke-width="1"/>
<path d="M442.7,763.3h3M442.7,736.4h3M442.7,709.5h3M442.7,682.6h3M442.7,655.7h3M595.7,763.3h3M595.7,727.4h3M595.7,691.6h3M595.7,655.7h3M445.7,763.3v3M481.7,763.3v3M517.7,763.3v3M553.7,763.3v3M589.7,763.3v3" stroke="#111" stroke-width="1"/>
<g text-anchor="end"><text x="441" y="766.3" class="tm">0</text><text x="441" y="739.4" class="tm">1</text><text x="441" y="712.5" class="tm">2</text><text x="441" y="685.6" class="tm">3</text><text x="441" y="658.7" class="tm">4</text></g>
<g><text x="600" y="766.3" class="tk">0.6</text><text x="600" y="730.4" class="tk">0.8</text><text x="600" y="694.6" class="tk">1.0</text><text x="600" y="658.7" class="tk">1.2</text></g>
<g text-anchor="middle"><text x="445.7" y="778" class="tk">0</text><text x="481.7" y="778" class="tk">10</text><text x="517.7" y="778" class="tk">20</text><text x="553.7" y="778" class="tk">30</text><text x="589.7" y="778" class="tk">40</text></g>
<text x="597" y="778" class="tk">s</text>
<text transform="translate(426.5,709) rotate(-90)" text-anchor="middle" font-size="10" fill="#c838c8">IAV velocity (μm/s)</text>
<text transform="translate(630,709) rotate(90)" text-anchor="middle" font-size="10" fill="#333">Intensity (relative)</text>
<text x="450" y="667.5" font-size="9" font-weight="bold" fill="#c81ec8">IAV</text>
<text x="450" y="679" font-size="9" font-weight="bold" fill="#1e9b48">Actin</text>
<text x="450" y="691" font-size="9" font-weight="bold" fill="#3b7fd4">Clathrin</text>
</svg>
</body></html>
